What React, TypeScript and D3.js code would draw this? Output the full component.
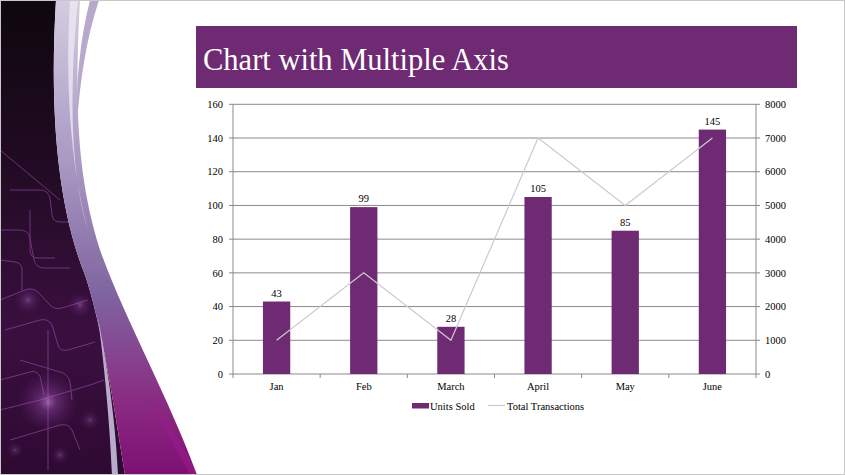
import React from "react";
import * as d3 from "d3";

const categories = ["Jan", "Feb", "March", "April", "May", "June"];
const unitsSold = [43, 99, 28, 105, 85, 145];
const totalTransactions = [1000, 3000, 1000, 7000, 5000, 7000];
const leftTicks = [0, 20, 40, 60, 80, 100, 120, 140, 160];
const rightTicks = [0, 1000, 2000, 3000, 4000, 5000, 6000, 7000, 8000];
const seriesNames = ["Units Sold", "Total Transactions"];
const title = "Chart with Multiple Axis";

const W = 845;
const H = 475;
const PL = 233;
const PR = 756;
const PT = 104.3;
const PB = 374;
const BAR = "#6e2a72";
const LINE = "#cfc8d6";
const GRID = "#8a8a8a";
const FONT = "'Liberation Serif', 'Times New Roman', serif";

export default function App() {
  const x = d3.scaleBand<string>().domain(categories).range([PL, PR]).padding(0);
  const xBar = d3
    .scaleBand<string>()
    .domain(categories)
    .range([PL, PR])
    .paddingInner(0.687)
    .paddingOuter(0.3435);
  const yL = d3.scaleLinear().domain([0, 160]).range([PB, PT]);
  const yR = d3.scaleLinear().domain([0, 8000]).range([PB, PT]);
  const line = d3
    .line<number>()
    .x((_, i) => (x(categories[i]) as number) + x.bandwidth() / 2)
    .y((d) => yR(d));

  const circuits = [
    "M0,150 L30,175 L60,200",
    "M0,230 L20,230 Q28,230 30,238 L34,260 Q36,268 44,268 L70,268",
    "M10,190 L40,190 Q48,190 50,198 L52,215 Q53,222 60,222 L72,222",
    "M0,300 L25,290 Q32,287 38,292 L50,305 Q55,310 62,308 L88,300",
    "M5,330 L40,320 Q48,318 52,325 L58,345 Q60,352 68,350 L95,342",
    "M0,260 L15,262 Q22,263 22,270 L22,290",
    "M20,360 L60,372 Q68,374 70,382 L72,400",
    "M0,410 L40,400 L90,385 L104,380",
    "M48,330 L48,470",
    "M10,440 L60,425 Q68,423 72,430 L80,450",
    "M30,210 L30,250 Q30,258 38,258 L55,258",
    "M0,380 L30,372 Q36,370 40,376 L44,395",
  ];
  const glows = [
    { cx: 48, cy: 402, r: 30, o: 0.55 },
    { cx: 28, cy: 300, r: 14, o: 0.35 },
    { cx: 80, cy: 305, r: 12, o: 0.35 },
    { cx: 90, cy: 420, r: 10, o: 0.3 },
    { cx: 60, cy: 455, r: 9, o: 0.3 },
    { cx: 15, cy: 450, r: 8, o: 0.3 },
  ];

  return (
    <svg
      width={W}
      height={H}
      style={{ position: "absolute", left: 0, top: 0, background: "#fff", fontFamily: FONT }}
    >
      <defs>
        <linearGradient id="darkG" x1="0" y1="0" x2="0" y2="1">
          <stop offset="0" stopColor="#0e070d" />
          <stop offset="0.35" stopColor="#220b24" />
          <stop offset="0.7" stopColor="#3a0f3f" />
          <stop offset="1" stopColor="#2e0a32" />
        </linearGradient>
        <linearGradient id="bandG" x1="0" y1="0" x2="0" y2="1">
          <stop offset="0" stopColor="#d4cce0" />
          <stop offset="0.35" stopColor="#a897c2" />
          <stop offset="0.62" stopColor="#7f64a0" />
          <stop offset="0.85" stopColor="#8a2a82" />
          <stop offset="1" stopColor="#7e0f74" />
        </linearGradient>
        <radialGradient id="glowG">
          <stop offset="0" stopColor="#e0a0f0" stopOpacity="1" />
          <stop offset="0.3" stopColor="#b060c8" stopOpacity="0.6" />
          <stop offset="1" stopColor="#8030a0" stopOpacity="0" />
        </radialGradient>
      </defs>

      {/* decorative left panel */}
      <path
        d="M0,0 L56,0 C50,100 55,200 85,275 C100,320 110,380 125,475 L0,475 Z"
        fill="url(#darkG)"
      />
      <g stroke="#b05cc8" strokeWidth={1} fill="none" opacity={0.5}>
        {circuits.map((d, i) => (
          <path key={i} d={d} />
        ))}
      </g>
      {glows.map((g, i) => (
        <circle key={i} cx={g.cx} cy={g.cy} r={g.r} fill="url(#glowG)" opacity={g.o} />
      ))}
      <path
        d="M56,0 L80,0 C74,110 78,180 100,250 C125,320 170,400 197,475 L125,475 C110,380 100,320 85,275 C55,200 50,100 56,0 Z"
        fill="url(#bandG)"
      />
      <path
        d="M70,0 L78,0 C68,100 72,180 88,230 C74,180 64,100 70,0 Z"
        fill="#ece8f2"
        opacity={0.8}
      />
      <path d="M90,0 L99,0 C86,40 80,80 77,125 C76,80 80,40 90,0 Z" fill="#b8a8cc" />
      <path
        d="M98,318 C110,380 116,430 118,475 L112,475 C110,430 106,380 98,318 Z"
        fill="#c9bcdc"
        opacity={0.9}
      />
      <path
        d="M150,400 C165,430 180,455 190,475 L197,475 C185,445 165,420 150,400 Z"
        fill="#9a1a8c"
        opacity={0.6}
      />

      {/* title band */}
      <rect x={196} y={26} width={601} height={62} fill={BAR} />
      <text x={203} y={70} fill="#fff" fontSize={30.5}>
        {title}
      </text>

      {/* gridlines */}
      <g>
        {leftTicks.map((t) => (
          <line key={t} x1={PL} x2={PR} y1={yL(t)} y2={yL(t)} stroke={GRID} strokeWidth={1} />
        ))}
      </g>
      {/* axes */}
      <line x1={PL} x2={PL} y1={PT} y2={PB} stroke={GRID} />
      <line x1={PR} x2={PR} y1={PT} y2={PB} stroke={GRID} />
      {leftTicks.map((t) => (
        <g key={"l" + t}>
          <line x1={PL - 4} x2={PL} y1={yL(t)} y2={yL(t)} stroke={GRID} />
          <text x={PL - 10} y={yL(t)} dy="0.35em" textAnchor="end" fontSize={10.5} fill="#000">
            {t}
          </text>
        </g>
      ))}
      {rightTicks.map((t) => (
        <g key={"r" + t}>
          <line x1={PR} x2={PR + 4} y1={yR(t)} y2={yR(t)} stroke={GRID} />
          <text x={PR + 9} y={yR(t)} dy="0.35em" textAnchor="start" fontSize={10.5} fill="#000">
            {t}
          </text>
        </g>
      ))}
      {categories.map((c, i) => (
        <g key={"c" + c}>
          <line
            x1={(x(c) as number) + x.bandwidth()}
            x2={(x(c) as number) + x.bandwidth()}
            y1={PB}
            y2={PB + 4}
            stroke={GRID}
          />
          {i === 0 && <line x1={PL} x2={PL} y1={PB} y2={PB + 4} stroke={GRID} />}
          <text
            x={(x(c) as number) + x.bandwidth() / 2}
            y={390}
            textAnchor="middle"
            fontSize={10.5}
            fill="#000"
          >
            {c}
          </text>
        </g>
      ))}

      {/* bars */}
      {categories.map((c, i) => (
        <g key={"b" + c}>
          <rect
            x={xBar(c)}
            y={yL(unitsSold[i])}
            width={xBar.bandwidth()}
            height={PB - yL(unitsSold[i])}
            fill={BAR}
          />
          <text
            x={(xBar(c) as number) + xBar.bandwidth() / 2}
            y={yL(unitsSold[i]) - 5}
            textAnchor="middle"
            fontSize={10.5}
            fill="#000"
          >
            {unitsSold[i]}
          </text>
        </g>
      ))}

      {/* line */}
      <path d={line(totalTransactions) || ""} fill="none" stroke={LINE} strokeWidth={1.2} />

      {/* legend */}
      <rect x={412} y={403} width={17} height={5.5} fill={BAR} />
      <text x={430} y={409.5} fontSize={10.5} fill="#000">
        {seriesNames[0]}
      </text>
      <line x1={488} x2={505} y1={405.5} y2={405.5} stroke={LINE} strokeWidth={1.2} />
      <text x={507} y={409.5} fontSize={10.5} fill="#000">
        {seriesNames[1]}
      </text>

      {/* outer border */}
      <rect x={0.5} y={0.5} width={W - 1} height={H - 1} fill="none" stroke="#c8c8c8" />
    </svg>
  );
}
